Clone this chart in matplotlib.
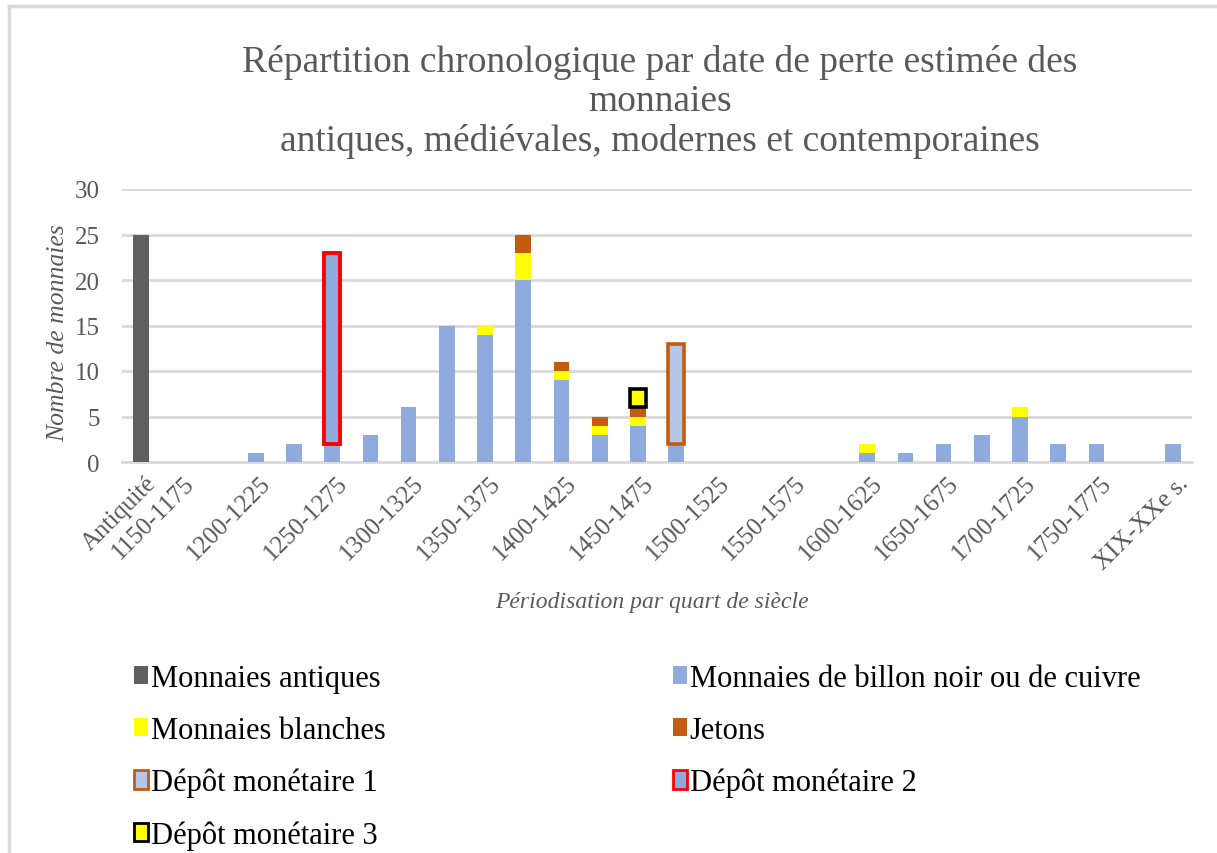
import matplotlib
matplotlib.use("Agg")
import matplotlib.pyplot as plt
from matplotlib.patches import Patch
from matplotlib.lines import Line2D
import numpy as np

plt.rcParams['font.family'] = ['Liberation Serif', 'DejaVu Serif']

periodes = ["Antiquité"] + ["%d-%d" % (a, a + 25) for a in range(1150, 1800, 25)] + ["XIX-XXe s."]
antiques = [25] + [0] * 27
billon = [0, 0, 0, 1, 2, 2, 3, 6, 15, 14, 20, 9, 3, 4, 2, 0, 0, 0, 0, 1, 1, 2, 3, 5, 2, 2, 0, 2]
blanches = [0, 0, 0, 0, 0, 0, 0, 0, 0, 1, 3, 1, 1, 1, 0, 0, 0, 0, 0, 1, 0, 0, 0, 1, 0, 0, 0, 0]
jetons = [0, 0, 0, 0, 0, 0, 0, 0, 0, 0, 2, 1, 1, 1, 0, 0, 0, 0, 0, 0, 0, 0, 0, 0, 0, 0, 0, 0]
depot1 = [0] * 14 + [11] + [0] * 13
depot2 = [0] * 5 + [21] + [0] * 22
depot3 = [0] * 13 + [2] + [0] * 14

grey_txt = '#595959'
c_ant = '#5f5f5f'
c_bil = '#8faadc'
c_bla = '#ffff00'
c_jet = '#c55a11'
c_dep1 = '#b4c7e7'

fig = plt.figure(figsize=(12.17, 8.54), dpi=100)
ax = fig.add_axes([122 / 1217, 1 - 463 / 854, 1070 / 1217, 273 / 854])

x = np.arange(len(periodes))
w = 0.41
ant = np.array(antiques)
bil = np.array(billon)
bla = np.array(blanches)
jet = np.array(jetons)

ax.bar(x, ant, w, color=c_ant, zorder=3)
ax.bar(x, bil, w, bottom=ant, color=c_bil, zorder=3)
ax.bar(x, bla, w, bottom=ant + bil, color=c_bla, zorder=3)
ax.bar(x, jet, w, bottom=ant + bil + bla, color=c_jet, zorder=3)
base = ant + bil + bla + jet

# depots: only draw non-empty ones (outlined)
for vals, fc, ec, lw in [(depot1, c_dep1, c_jet, 2.6), (depot2, c_bil, '#ff0000', 2.8),
                         (depot3, c_bla, 'black', 2.6)]:
    v = np.array(vals)
    m = v > 0
    ax.bar(x[m], v[m], w, bottom=base[m], color=fc, edgecolor=ec, linewidth=lw, zorder=4)

ax.set_xlim(-0.5, len(periodes) - 0.5)
ax.set_ylim(0, 30)
ax.set_yticks(range(0, 31, 5))
ax.yaxis.grid(True, color='#d9d9d9', linewidth=2, zorder=0)
for s in ['top', 'right', 'left']:
    ax.spines[s].set_visible(False)
ax.spines['bottom'].set_color('#d9d9d9')
ax.spines['bottom'].set_linewidth(2)
ax.tick_params(length=0, labelsize=18, colors=grey_txt)
ax.tick_params(axis='y', pad=16)

shown = [0] + list(range(1, len(periodes), 2))
ax.set_xticks(shown)
ax.set_xticklabels([periodes[i] for i in shown], rotation=45, ha='right',
                   rotation_mode='anchor')
for lab in ax.get_xticklabels():
    lab.set_transform(lab.get_transform() + matplotlib.transforms.ScaledTranslation(0.04, -0.05, fig.dpi_scale_trans))

fig.text(58 / 1217, 1 - 333 / 854, "Nombre de monnaies", fontsize=18.5, style='italic',
         color=grey_txt, ha='center', va='center', rotation=90)
fig.text(652 / 1217, 1 - 603 / 854, "Périodisation par quart de siècle", fontsize=17,
         style='italic', color=grey_txt, ha='center', va='center')

fig.text(660 / 1217, 1 - 102 / 854,
         "Répartition chronologique par date de perte estimée des\nmonnaies\nantiques, médiévales, modernes et contemporaines",
         fontsize=27, color=grey_txt, ha='center', va='center', linespacing=1.17)

handles = [
    Patch(facecolor=c_ant, edgecolor='none'),
    Patch(facecolor=c_bla, edgecolor='none'),
    Patch(facecolor=c_dep1, edgecolor=c_jet, linewidth=2),
    Patch(facecolor=c_bla, edgecolor='black', linewidth=2),
    Patch(facecolor=c_bil, edgecolor='none'),
    Patch(facecolor=c_jet, edgecolor='none'),
    Patch(facecolor=c_bil, edgecolor='#ff0000', linewidth=2),
]
labels = ["Monnaies antiques", "Monnaies blanches", "Dépôt monétaire 1", "Dépôt monétaire 3",
          "Monnaies de billon noir ou de cuivre", "Jetons", "Dépôt monétaire 2"]
fig.legend(handles, labels, ncol=2, loc='upper left', bbox_to_anchor=(134 / 1217, 1 - 665 / 854),
           frameon=False, fontsize=22, handlelength=0.45, handleheight=0.55, handletextpad=0.1,
           labelspacing=0.75, columnspacing=9.4, borderaxespad=0, borderpad=0)

fig.add_artist(Line2D([9 / 1217, 1], [1 - 7 / 854, 1 - 7 / 854], color='#d9d9d9', linewidth=2.5,
                      transform=fig.transFigure))
fig.add_artist(Line2D([9 / 1217, 9 / 1217], [0, 1 - 7 / 854], color='#d9d9d9', linewidth=2.5,
                      transform=fig.transFigure))

fig.savefig("out.png", dpi=100)
